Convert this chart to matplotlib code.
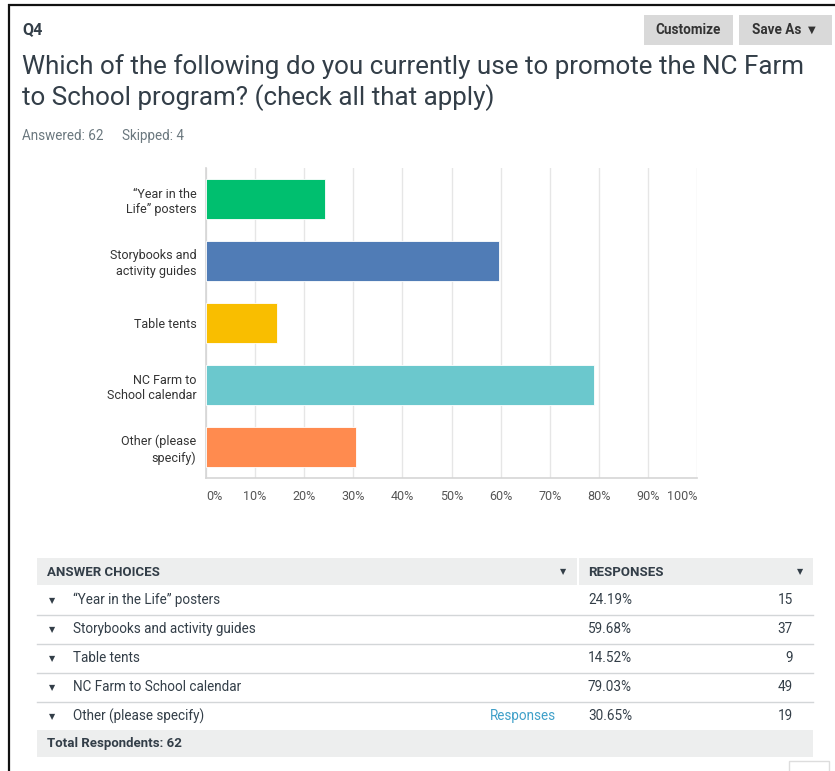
import matplotlib
matplotlib.use('Agg')
import matplotlib.pyplot as plt
from matplotlib.patches import Rectangle

# ---------------- data ----------------
categories = ['\u201cYear in the\nLife\u201d posters', 'Storybooks and\nactivity guides', 'Table tents',
              'NC Farm to\nSchool calendar', 'Other (please\nspecify)']
choices = ['\u201cYear in the Life\u201d posters', 'Storybooks and activity guides', 'Table tents',
           'NC Farm to School calendar', 'Other (please specify)']
percents = [24.19, 59.68, 14.52, 79.03, 30.65]
counts = [15, 37, 9, 49, 19]
colors = ['#00BF6F', '#507CB6', '#F9BE00', '#6BC8CD', '#FF8B4F']
tick_values = [0, 10, 20, 30, 40, 50, 60, 70, 80, 90, 100]
tick_labels = ['0%', '10%', '20%', '30%', '40%', '50%', '60%', '70%', '80%', '90%', '100%']
question = 'Q4'
title_lines = ['Which of the following do you currently use to promote the NC Farm',
               'to School program? (check all that apply)']
answered = 62
skipped = 4
total_respondents = 62

FONT = ['Roboto', 'DejaVu Sans']
W, H = 835, 771
DARK = '#333E48'

fig = plt.figure(figsize=(W / 100, H / 100), dpi=100)
fig.patch.set_facecolor('white')

bg = fig.add_axes([0, 0, 1, 1])
bg.set_xlim(0, W)
bg.set_ylim(H, 0)
bg.axis('off')


def T(x, y, s, px, color=DARK, weight='normal', ha='left', va='center', family=FONT):
    return bg.text(x, y, s, fontsize=px * 0.72, color=color, fontweight=weight,
                   ha=ha, va=va, family=family)


# frame lines
bg.plot([8.5, 8.5], [4, H], color='#111111', lw=1.6, solid_capstyle='butt')
bg.plot([8, W], [4.5, 4.5], color='#111111', lw=1.6, solid_capstyle='butt')

# header
T(22, 30, question, 16, weight='bold')
bg.add_patch(Rectangle((644, 15), 89, 30, fc='#D9D9D9', ec='none'))
bg.add_patch(Rectangle((739, 15), 93, 30, fc='#D9D9D9', ec='none'))
T(688.5, 30, 'Customize', 13.5, color='#333333', weight='bold', ha='center')
T(752, 30, 'Save As', 13.5, color='#333333', weight='bold', ha='left')
T(812, 30, '\u25BC', 10, color='#333333', ha='center', family=['DejaVu Sans'])

# title (fitted to measured width)
renderer = fig.canvas.get_renderer()
t1 = T(22, 67, title_lines[0], 25, color=DARK)
w = t1.get_window_extent(renderer).width
fs = t1.get_fontsize() * 784 / w
t1.set_fontsize(fs)
T(22, 98, title_lines[1], 25, color=DARK).set_fontsize(fs)

T(22, 136, f'Answered: {answered}', 13.5, color='#6B787F')
T(122, 136, f'Skipped: {skipped}', 13.5, color='#6B787F')

# ---------------- bar chart ----------------
ax_l, ax_r, ax_t, ax_b = 206, 697, 168, 478
ax = fig.add_axes([ax_l / W, 1 - ax_b / H, (ax_r - ax_l) / W, (ax_b - ax_t) / H])
ax.set_facecolor('none')
ypos = list(range(len(categories)))
ax.barh(ypos, percents, height=0.66, color=colors, edgecolor='white', linewidth=0.6, zorder=3)
ax.set_xlim(0, 100)
ax.set_ylim(len(categories) - 0.5, -0.5)
ax.set_xticks(tick_values)
ax.set_xticklabels(tick_labels)
ax.set_yticks(ypos)
ax.set_yticklabels(categories, linespacing=1.25)
ax.tick_params(axis='both', length=0)
ax.tick_params(axis='x', pad=9, labelsize=12.5 * 0.72, labelcolor='#555555')
ax.tick_params(axis='y', pad=7, labelsize=12.5 * 0.72, labelcolor='#333333')
for lab in ax.get_xticklabels() + ax.get_yticklabels():
    lab.set_family(FONT)
xl = ax.get_xticklabels()
xl[0].set_ha('left')
xl[-1].set_ha('right')
ax.grid(axis='x', color='#E6E6E6', lw=1, zorder=0)
ax.set_axisbelow(True)
for s in ['top', 'right']:
    ax.spines[s].set_visible(False)
for s in ['left', 'bottom']:
    ax.spines[s].set_color('#D5D5D5')
    ax.spines[s].set_linewidth(1.2)

# ---------------- table ----------------
TL, TR = 37, 813
bg.add_patch(Rectangle((TL, 558), TR - TL, 27, fc='#EDEEEE', ec='none'))
bg.plot([577.5, 577.5], [558, 585], color='white', lw=1.5)
T(47, 572, 'ANSWER CHOICES', 13.3, weight='bold')
T(563, 572, '\u25BC', 8, color=DARK, ha='center', family=['DejaVu Sans'])
T(588, 572, 'RESPONSES', 13.3, weight='bold')
T(800, 572, '\u25BC', 8, color=DARK, ha='center', family=['DejaVu Sans'])

row0, rowh = 600, 29
for i, (c, p, n) in enumerate(zip(choices, percents, counts)):
    y = row0 + rowh * i
    T(52, y + 1, '\u25BC', 8, color=DARK, ha='center', family=['DejaVu Sans'])
    T(73, y, c, 13.5, color=DARK)
    T(588, y, f'{p:.2f}%', 13.5, color=DARK)
    T(793, y, f'{n}', 13.5, color=DARK, ha='right')
    if i < len(choices) - 1:
        bg.plot([TL, TR], [y + 14.5, y + 14.5], color='#D3D6D8', lw=1)
T(556, row0 + rowh * 4, 'Responses', 13.5, color='#3FA0C9', ha='right')

bg.add_patch(Rectangle((TL, 730), TR - TL, 27, fc='#EDEEEE', ec='none'))
T(47, 744, f'Total Respondents: {total_respondents}', 13.3, weight='bold')

bg.add_patch(Rectangle((789, 761), 40, 14, fc='white', ec='#DDDDDD', lw=1))

fig.savefig('out.png', dpi=100, facecolor='white')
